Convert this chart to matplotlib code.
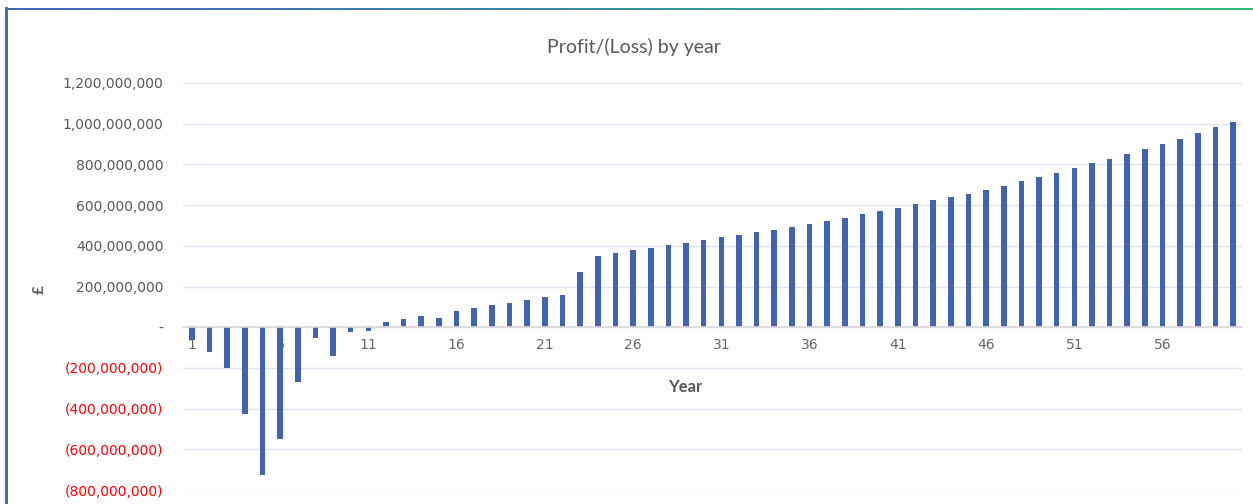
import numpy as np
import matplotlib
matplotlib.use("Agg")
import matplotlib.pyplot as plt
from matplotlib.colors import LinearSegmentedColormap

# profit/(loss) per year, in millions of pounds
years = list(range(1, 61))
profit_m = [-62, -120, -200, -426, -728, -548, -268, -52, -143, -23, -18,
            27, 42, 57, 46, 80, 93, 107, 119, 133, 148, 156,
            270,
            350, 364, 379, 390, 402, 413, 428, 441, 452, 467, 478, 493, 509,
            524, 538, 555, 569, 584, 603,
            623, 638, 656, 675, 695, 718, 736, 760, 781, 806, 827, 850, 876,
            899, 925, 952, 983, 1009]
y_ticks = [-800e6, -600e6, -400e6, -200e6, 0, 200e6, 400e6, 600e6, 800e6, 1000e6, 1200e6]
x_tick_years = [1, 6, 11, 16, 21, 26, 31, 36, 41, 46, 51, 56]

profit = np.array(profit_m) * 1e6

W, H = 1253, 504
fig = plt.figure(figsize=(W / 100, H / 100), dpi=100)
ax = fig.add_axes([183 / W, 1 - 490 / H, (1242 - 183) / W, (490 - 83) / H])

ax.bar(years, profit, width=0.32, color="#4264B0", zorder=3)

ax.set_xlim(0.5, 60.5)
ax.set_ylim(-800e6, 1200e6)


def fmt(v):
    if v == 0:
        return "-"
    s = f"{abs(v):,.0f}"
    return f"({s})" if v < 0 else s


ax.set_yticks(y_ticks)
ax.set_yticklabels([fmt(v) for v in y_ticks], fontsize=10, fontfamily="DejaVu Sans")
for lab, v in zip(ax.get_yticklabels(), y_ticks):
    lab.set_color("#FF0000" if v < 0 else "#595959")
ax.tick_params(axis="y", length=0, pad=14)

ax.set_xticks(x_tick_years)
ax.set_xticklabels([str(y) for y in x_tick_years], fontsize=9)
ax.tick_params(axis="x", length=0, pad=8, labelcolor="#666666")

ax.grid(axis="y", color="#DDE4F2", linewidth=1, zorder=0)
ax.set_axisbelow(True)
for side in ["left", "right", "top"]:
    ax.spines[side].set_visible(False)
ax.spines["bottom"].set_position(("data", 0))
ax.spines["bottom"].set_color("#D9D9D9")
ax.spines["bottom"].set_linewidth(1.2)
ax.spines["bottom"].set_zorder(4)

fig.text(634 / W, 1 - 47 / H, "Profit/(Loss) by year", ha="center", va="center",
         fontsize=14, color="#595959", fontfamily="Lato")
fig.text(685 / W, 1 - 387 / H, "Year", ha="center", va="center",
         fontsize=12, color="#595959", fontfamily="Lato", fontweight="bold")
fig.text(40 / W, 1 - 290 / H, "£", ha="center", va="center", rotation=90,
         fontsize=11, color="#595959", fontfamily="Lato", fontweight="bold")

# frame: blue left edge, blue-to-green top edge
fig.add_artist(plt.Line2D([6 / W, 6 / W], [0, 1 - 8 / H], color="#4A6CB8",
                          linewidth=2.2, transform=fig.transFigure))
cmap = LinearSegmentedColormap.from_list("edge", ["#4668B8", "#3A8FA0", "#2FBF7C"])
gax = fig.add_axes([5 / W, 1 - 10 / H, (W - 5) / W, 2.5 / H])
gax.imshow(np.linspace(0, 1, 400)[None, :], aspect="auto", cmap=cmap)
gax.axis("off")

fig.savefig("out.png", dpi=100)
